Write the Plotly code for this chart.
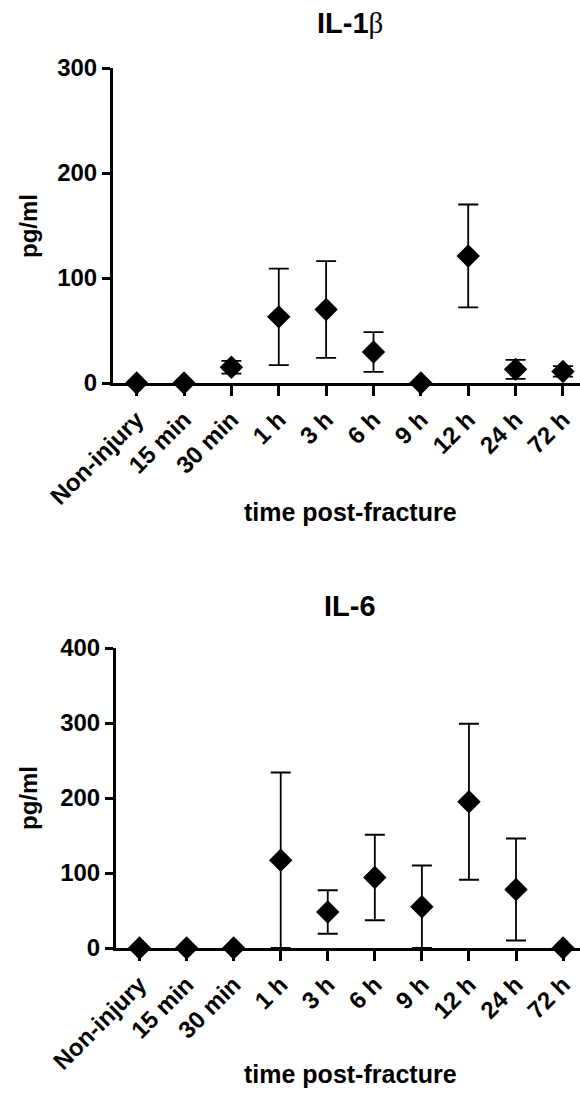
import plotly.graph_objects as go

W, H = 580, 1101

categories = ["Non-injury", "15 min", "30 min", "1 h", "3 h", "6 h", "9 h", "12 h", "24 h", "72 h"]

il1b_mean = [0, 0, 15, 63, 70, 29.5, 0, 121, 13, 11]
il1b_err = [0, 0, 6, 46, 46, 19, 0, 49, 9, 5]

il6_mean = [0, 0, 0, 117, 48, 94, 55, 195, 78, 0]
il6_err = [0, 0, 0, 117, 29, 57, 55, 104, 68, 0]

il1b_ticks = [0, 100, 200, 300]
il6_ticks = [0, 100, 200, 300, 400]

FONT = "Liberation Sans"
BLACK = "#000000"


def py(px):
    return 1 - px / H


fig = go.Figure()


def add_panel(idx, mean, err, yrange, yticks, xdom, ydom):
    xa = "x" if idx == 1 else f"x{idx}"
    ya = "y" if idx == 1 else f"y{idx}"
    fig.add_trace(go.Scatter(
        x=list(range(len(categories))), y=mean, mode="markers",
        marker=dict(symbol="diamond", size=18, color=BLACK, line=dict(width=0)),
        error_y=dict(type="data", array=[e if e > 0 else None for e in err], visible=True,
                     color=BLACK, thickness=1.8, width=10),
        cliponaxis=False, showlegend=False, xaxis=xa, yaxis=ya,
    ))
    xkey = "xaxis" if idx == 1 else f"xaxis{idx}"
    ykey = "yaxis" if idx == 1 else f"yaxis{idx}"
    fig.update_layout(**{
        xkey: dict(domain=xdom, anchor=ya, range=[-0.5, 9.36], automargin=False,
                   tickmode="array", tickvals=list(range(len(categories))), ticktext=categories,
                   tickangle=-45, ticks="outside", ticklen=10, tickwidth=3, tickcolor=BLACK,
                   showline=True, linewidth=3, linecolor=BLACK, showgrid=False, zeroline=False,
                   tickfont=dict(family=FONT, size=24, color=BLACK, weight="bold")),
        ykey: dict(domain=ydom, anchor=xa, range=yrange, automargin=False,
                   tickmode="array", tickvals=yticks, ticktext=[str(t) for t in yticks],
                   ticks="outside", ticklen=8, tickwidth=3, tickcolor=BLACK,
                   showline=True, linewidth=3, linecolor=BLACK, showgrid=False, zeroline=False,
                   tickfont=dict(family=FONT, size=24, color=BLACK, weight="bold")),
    })


# top panel: axis at x=113, y from 68 (300) to 383 (0)
add_panel(1, il1b_mean, il1b_err, [0, 300], il1b_ticks, [113 / W, 1.0], [py(383), py(68)])
# bottom panel: axis at x=116, y from 648 (400) to 948 (0)
add_panel(2, il6_mean, il6_err, [0, 400], il6_ticks, [116 / W, 1.0], [py(948), py(648)])

annos = [
    dict(text="<b>IL-1</b><span style='font-family:Liberation Serif'>β</span>", x=350 / W, y=py(23),
         size=29),
    dict(text="<b>IL-6</b>", x=350 / W, y=py(606), size=29),
    dict(text="<b>time post-fracture</b>", x=350 / W, y=py(512), size=25),
    dict(text="<b>time post-fracture</b>", x=350 / W, y=py(1074), size=25),
]
for a in annos:
    fig.add_annotation(text=a["text"], x=a["x"], y=a["y"], xref="paper", yref="paper",
                       xanchor="center", yanchor="middle", showarrow=False,
                       font=dict(family=FONT, size=a["size"], color=BLACK))

for ycen in [226, 798]:
    fig.add_annotation(text="<b>pg/ml</b>", x=28 / W, y=py(ycen), xref="paper", yref="paper",
                       xanchor="center", yanchor="middle", showarrow=False, textangle=-90,
                       font=dict(family=FONT, size=24, color=BLACK))

fig.update_layout(width=W, height=H, margin=dict(l=0, r=0, t=0, b=0),
                  paper_bgcolor="white", plot_bgcolor="white",
                  font=dict(family=FONT, color=BLACK))

fig.write_html("out.html")
